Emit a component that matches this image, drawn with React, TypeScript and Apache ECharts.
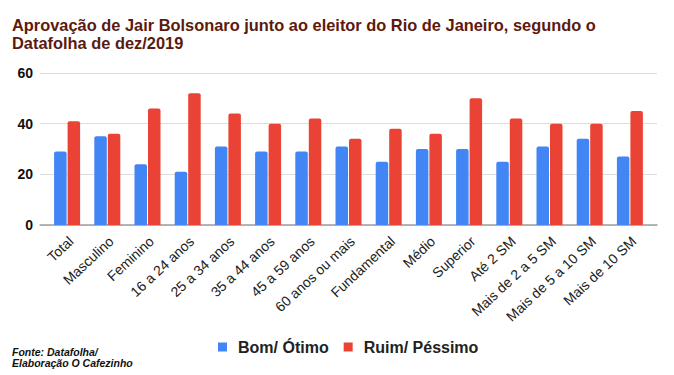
import React, { useEffect, useRef } from "react";
import * as echarts from "echarts";

const categories = [
  "Total", "Masculino", "Feminino", "16 a 24 anos", "25 a 34 anos", "35 a 44 anos",
  "45 a 59 anos", "60 anos ou mais", "Fundamental", "Médio", "Superior", "Até 2 SM",
  "Mais de 2 a 5 SM", "Mais de 5 a 10 SM", "Mais de 10 SM",
];
const bomOtimo = [29, 35, 24, 21, 31, 29, 29, 31, 25, 30, 30, 25, 31, 34, 27];
const ruimPessimo = [41, 36, 46, 52, 44, 40, 42, 34, 38, 36, 50, 42, 40, 40, 45];
const seriesNames = ["Bom/ Ótimo", "Ruim/ Péssimo"];
const yTicks = [0, 20, 40, 60];
const titleText = "Aprovação de Jair Bolsonaro junto ao eleitor do Rio de Janeiro, segundo o\nDatafolha de dez/2019";
const sourceText = "Fonte: Datafolha/\nElaboração O Cafezinho";

export default function App() {
  const ref = useRef<HTMLDivElement>(null);
  useEffect(() => {
    if (!ref.current) return;
    const chart = echarts.init(ref.current, null, { renderer: "svg" });
    chart.setOption({
      animation: false,
      backgroundColor: "#ffffff",
      legend: {
        left: 213,
        top: 333,
        icon: "rect",
        itemWidth: 9,
        itemHeight: 9,
        itemGap: 15,
        textStyle: {
          fontFamily: "Liberation Sans",
          fontWeight: "bold",
          fontSize: 16,
          lineHeight: 18,
          color: "#222222",
          padding: [0, 0, 0, 6],
        },
        data: seriesNames,
      },
      graphic: [
        {
          type: "text",
          x: 12,
          y: 16,
          style: {
            text: titleText,
            font: "bold 16.4px 'Liberation Sans'",
            lineHeight: 18,
            fill: "#5c1a0e",
          },
        },
        {
          type: "text",
          x: 12,
          y: 346,
          style: {
            text: sourceText,
            font: "italic bold 10.5px 'Liberation Sans'",
            lineHeight: 11,
            fill: "#111111",
          },
        },
      ],
      grid: [
        { left: 47, right: 24, top: 73, bottom: 150 },
        { left: 40, right: 17, top: 73, bottom: 150 },
        { left: 51, right: 20, top: 73, bottom: 150 },
      ],
      xAxis: [
        {
          type: "category",
          gridIndex: 0,
          data: categories,
          axisLine: { show: false },
          axisTick: { show: false },
          axisLabel: { show: false },
        },
        {
          type: "value",
          gridIndex: 1,
          min: 0,
          max: 1,
          axisLine: { show: true, lineStyle: { color: "#9e9e9e", width: 1.5 } },
          axisTick: { show: false },
          axisLabel: { show: false },
          splitLine: { show: false },
        },
        {
          type: "category",
          gridIndex: 2,
          data: categories,
          axisLine: { show: false },
          axisTick: { show: false },
          axisLabel: {
            rotate: 43,
            interval: 0,
            fontFamily: "Liberation Sans",
            fontSize: 14,
            color: "#222222",
            margin: 14,
          },
        },
      ],
      yAxis: [
        {
          type: "value",
          gridIndex: 0,
          min: 0,
          max: 60,
          interval: 20,
          axisLine: { show: false },
          axisTick: { show: false },
          axisLabel: { show: false },
          splitLine: { show: false },
        },
        {
          type: "value",
          gridIndex: 1,
          min: yTicks[0],
          max: yTicks[yTicks.length - 1],
          interval: 20,
          axisLine: { show: false },
          axisTick: { show: false },
          splitLine: { lineStyle: { color: "#dddddd" } },
          axisLabel: {
            fontFamily: "Liberation Sans",
            fontWeight: "bold",
            fontSize: 14,
            color: "#111111",
            margin: 7,
          },
        },
        {
          type: "value",
          gridIndex: 2,
          min: 0,
          max: 60,
          interval: 20,
          show: false,
        },
      ],
      series: [
        {
          name: seriesNames[0],
          type: "bar",
          xAxisIndex: 0,
          yAxisIndex: 0,
          data: bomOtimo,
          barWidth: 12.5,
          barGap: "8%",
          itemStyle: { color: "#4285f4", borderRadius: [2, 2, 0, 0] },
        },
        {
          name: seriesNames[1],
          type: "bar",
          xAxisIndex: 0,
          yAxisIndex: 0,
          data: ruimPessimo,
          barWidth: 12.5,
          itemStyle: { color: "#ea4335", borderRadius: [2, 2, 0, 0] },
        },
      ],
    });
    return () => chart.dispose();
  }, []);
  return (
    <div
      ref={ref}
      style={{ position: "absolute", left: 0, top: 0, width: 674, height: 375 }}
    />
  );
}
